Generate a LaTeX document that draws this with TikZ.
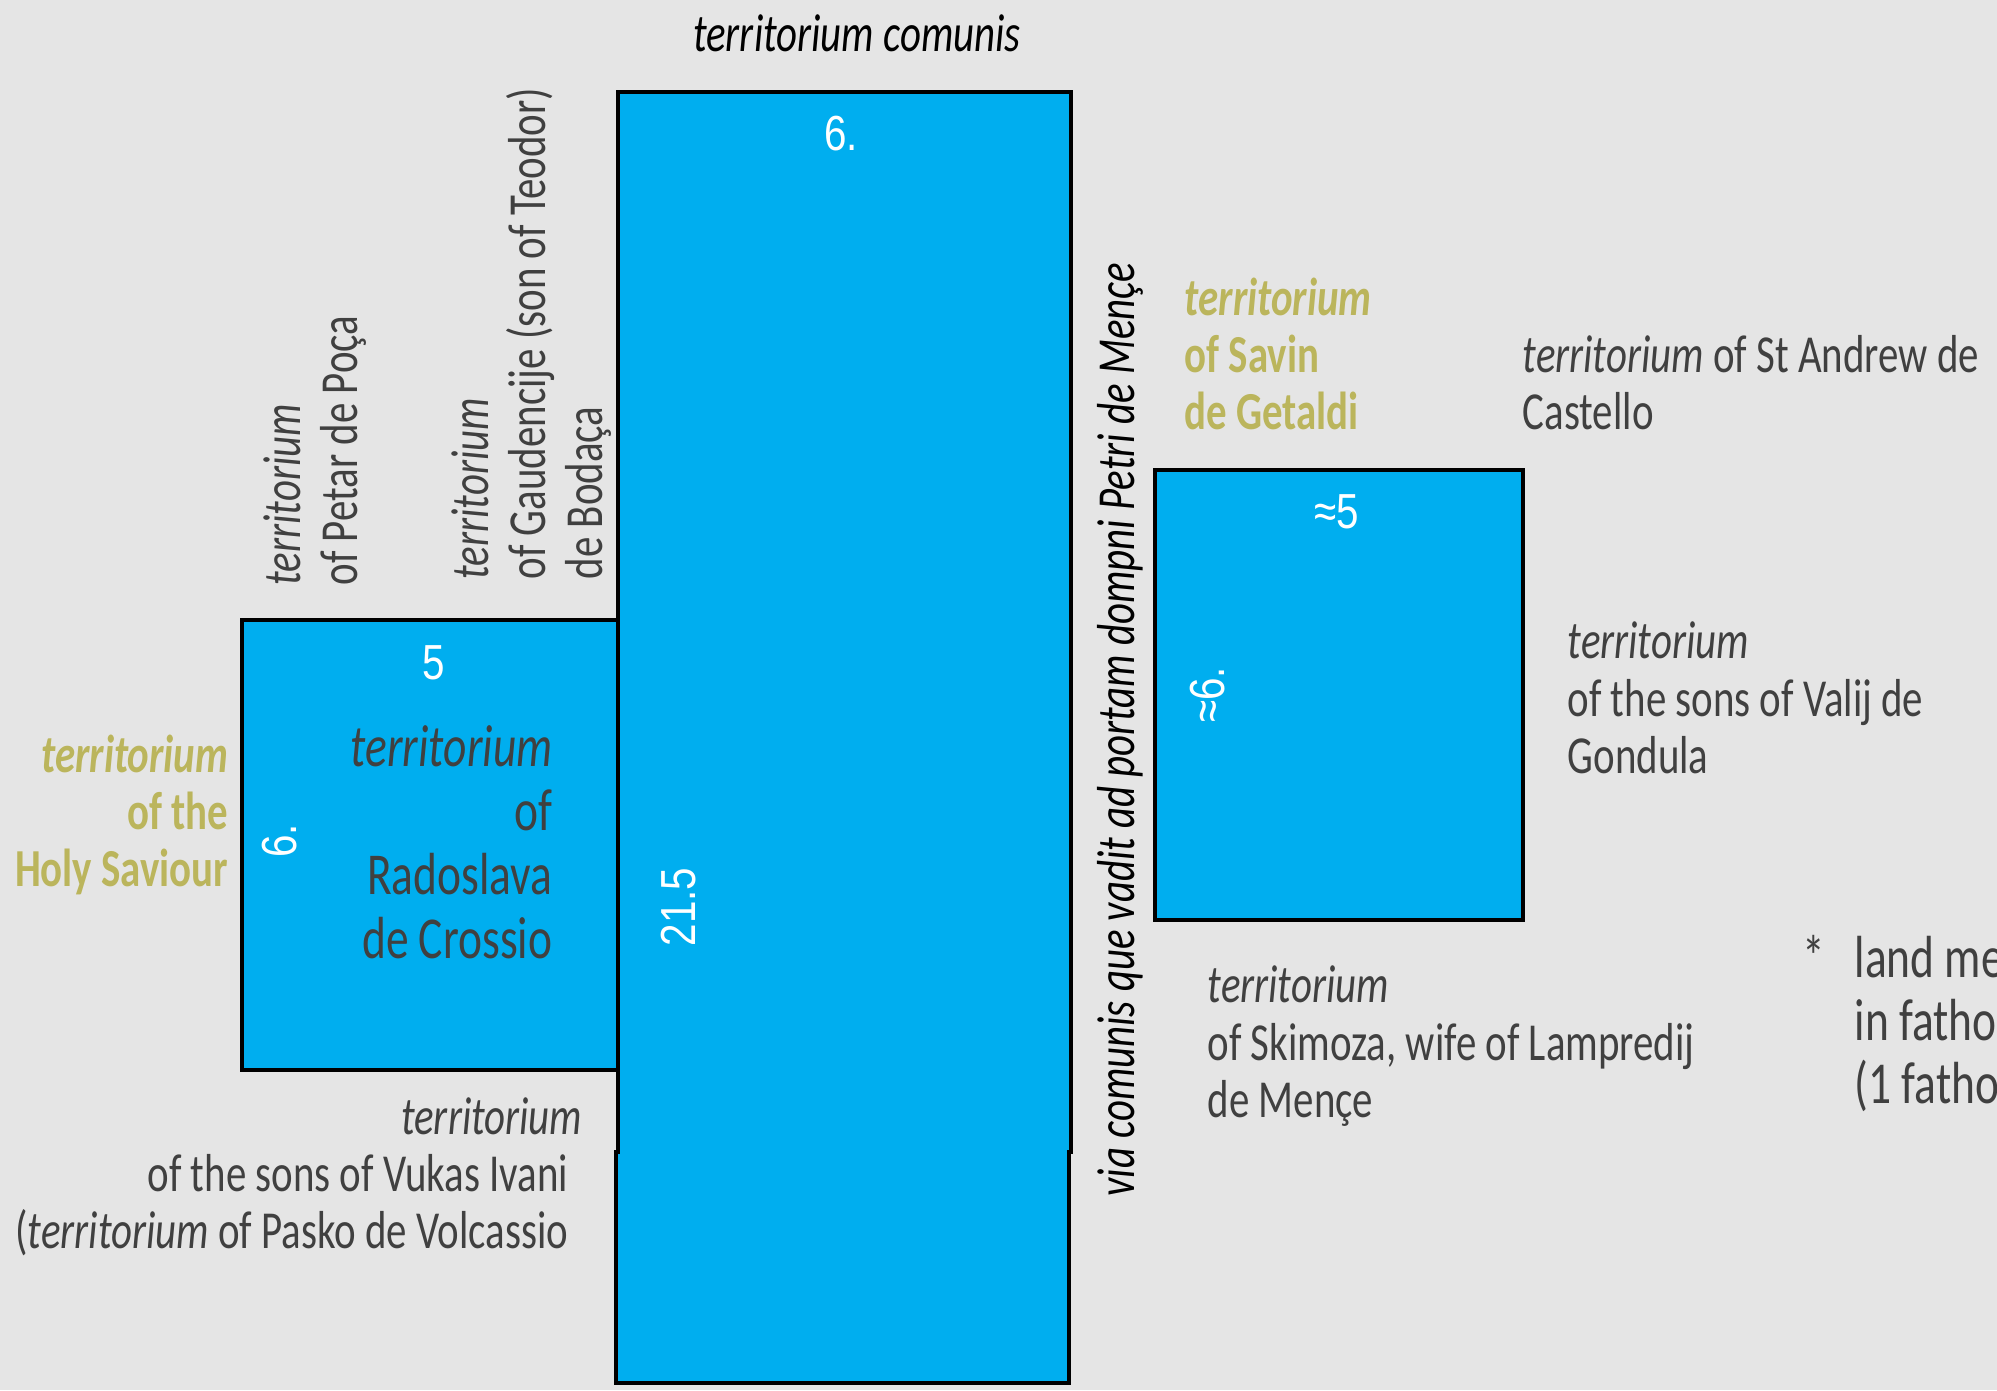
\documentclass[tikz,border=0pt]{standalone}
\usepackage{fontspec}
\setmainfont{Carlito}[FakeStretch=0.765]
\newfontfamily\numfont{Liberation Sans}[FakeStretch=0.82]
\definecolor{plotblue}{RGB}{0,174,239}
\definecolor{paper}{RGB}{229,229,229}
\definecolor{txtgray}{RGB}{64,64,64}
\definecolor{savgold}{RGB}{187,181,92}
\tikzset{
	lot/.style={fill=plotblue, draw=black, line width=1.1pt},
	lbl/.style={inner sep=0, text=txtgray, font=\fontsize{15.2}{17}\selectfont},
	lblbig/.style={inner sep=0, text=txtgray, font=\fontsize{16.9}{19}\selectfont},
	gold/.style={inner sep=0, text=savgold, font=\fontsize{15.2}{17}\selectfont\bfseries},
	dim/.style={inner sep=0, text=white, font=\numfont\fontsize{14}{16}\selectfont},
	road/.style={inner sep=0, text=black, font=\fontsize{15.2}{17}\selectfont\itshape}
}
\begin{document}
\begin{tikzpicture}[x=0.01cm, y=-0.01cm]
	\useasboundingbox (0,0) rectangle (1997,1390);
	\fill[paper] (0,0) rectangle (1997,1390);
	% plots
	\draw[lot] (242,620) rectangle (619,1070);
	\draw[lot] (618,92) -- (1071,92) -- (1071,1152) -- (1069,1152) -- (1069,1383)
		-- (616,1383) -- (616,1152) -- (618,1152) -- cycle;
	\draw[lot] (1155,470) rectangle (1523,920);

	% measures
	\node	(m1) at (841,150) [dim, anchor=base] {6.};
	\node	(m2) at (434,679) [dim, anchor=base] {5};
	\node	(m3) at (296,841) [dim, anchor=base, rotate=90] {6.};
	\node	(m4) at (695,907) [dim, anchor=base, rotate=90] {21.5};
	\node	(m5) at (1337,528) [dim, anchor=base] {≈5};
	\node	(m6) at (1224,695) [dim, anchor=base, rotate=90] {≈6.};

	% neighbours
	\node	(comunis) at (857,51) [road, anchor=base] {territorium comunis};
	\node	(via) at (1134,1197) [road, anchor=base west, rotate=90] {via comunis que vadit ad portam dompni Petri de Mençe};

	\node	(petar1) at (300,586) [lbl, anchor=base west, rotate=90] {\textit{territorium}};
	\node	(petar2) at (357,586) [lbl, anchor=base west, rotate=90] {of Petar de Poça};

	\node	(gaud1) at (488,580) [lbl, anchor=base west, rotate=90] {\textit{territorium}};
	\node	(gaud2) at (545,580) [lbl, anchor=base west, rotate=90] {of Gaudencije (son of Teodor)};
	\node	(gaud3) at (602,580) [lbl, anchor=base west, rotate=90] {de Bodaça};

	\node	(rado1) at (553,766) [lblbig, anchor=base east] {\textit{territorium}};
	\node	(rado2) at (553,830) [lblbig, anchor=base east] {of};
	\node	(rado3) at (553,894) [lblbig, anchor=base east] {Radoslava};
	\node	(rado4) at (553,958) [lblbig, anchor=base east] {de Crossio};

	\node	(holy1) at (229,772) [gold, anchor=base east] {\textit{territorium}};
	\node	(holy2) at (229,829) [gold, anchor=base east] {of the};
	\node	(holy3) at (229,886) [gold, anchor=base east] {Holy Saviour};

	\node	(savin1) at (1184,315) [gold, anchor=base west] {\textit{territorium}};
	\node	(savin2) at (1184,372) [gold, anchor=base west] {of Savin};
	\node	(savin3) at (1184,429) [gold, anchor=base west] {de Getaldi};

	\node	(andrew1) at (1522,372) [lbl, anchor=base west] {\textit{territorium} of St Andrew de};
	\node	(andrew2) at (1522,429) [lbl, anchor=base west] {Castello};

	\node	(valij1) at (1567,658) [lbl, anchor=base west] {\textit{territorium}};
	\node	(valij2) at (1567,716) [lbl, anchor=base west] {of the sons of Valij de};
	\node	(valij3) at (1567,773) [lbl, anchor=base west] {Gondula};

	\node	(skim1) at (1207,1002) [lbl, anchor=base west] {\textit{territorium}};
	\node	(skim2) at (1207,1060) [lbl, anchor=base west] {of Skimoza, wife of Lampredij};
	\node	(skim3) at (1207,1117) [lbl, anchor=base west] {de Mençe};

	\node	(vukas1) at (583,1134) [lbl, anchor=base east] {\textit{territorium}};
	\node	(vukas2) at (569,1191) [lbl, anchor=base east] {of the sons of Vukas Ivani};
	\node	(vukas3) at (569,1248) [lbl, anchor=base east] {(\textit{territorium} of Pasko de Volcassio};

	% legend
	\node	(star) at (1802,977) [lblbig, anchor=base west] {*};
	\node	(leg1) at (1854,977) [lblbig, anchor=base west] {land me};
	\node	(leg2) at (1854,1040) [lblbig, anchor=base west] {in fatho};
	\node	(leg3) at (1854,1103) [lblbig, anchor=base west] {(1 fatho};
\end{tikzpicture}
\end{document}
